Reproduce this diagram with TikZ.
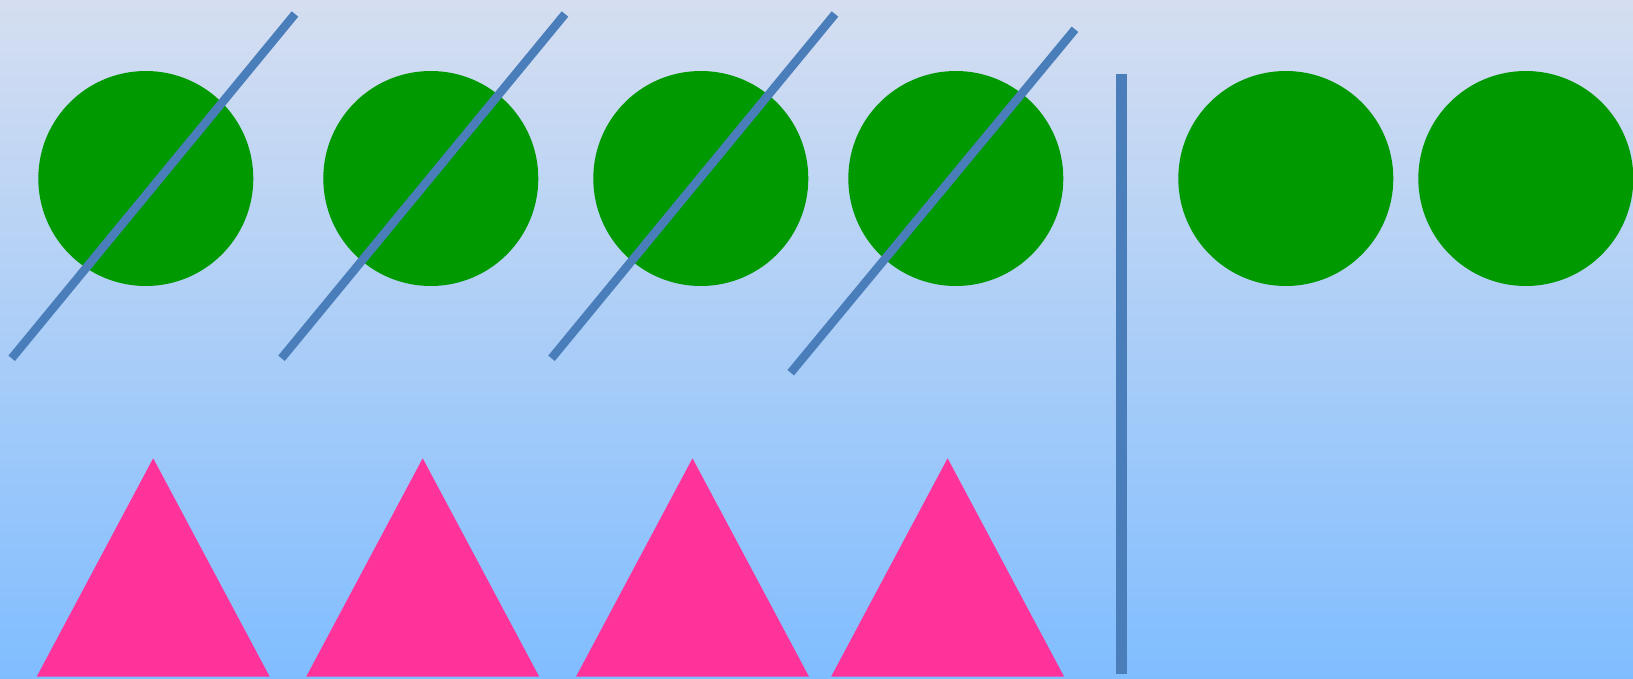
\documentclass[tikz,border=0pt]{standalone}
\usepackage{tikz}
\definecolor{skytop}{RGB}{213,222,240}
\definecolor{skybottom}{RGB}{128,189,255}
\definecolor{ballgreen}{RGB}{0,153,0}
\definecolor{conepink}{RGB}{255,51,153}
\definecolor{strokeblue}{RGB}{74,126,187}
\begin{document}
\begin{tikzpicture}[x=.02cm,y=-.02cm,
  ball/.style={fill=ballgreen},
  cone/.style={fill=conepink},
  slash/.style={draw=strokeblue,line width=.17cm,line cap=butt}]
  \path[use as bounding box,shade,top color=skytop,bottom color=skybottom] (0,0) rectangle (1633,679);
  % balls
  \foreach \cx in {145.8,430.8,700.8,955.8,1285.8,1525.8}
    \fill[ball] (\cx,178.5) circle (107.5);
  % strokes across the first four
  \draw[slash] (11.7,358.3) -- (295,14);
  \draw[slash] (281.5,358.3) -- (565,14);
  \draw[slash] (551.5,358.3) -- (835,14);
  \draw[slash] (790.7,372.7) -- (1075,29.3);
  % separator
  \fill[strokeblue] (1115.5,74) rectangle (1127,674);
  % cones
  \foreach \lx in {36.7,306.2,576,831.1}
    \fill[cone] (\lx,676.7) -- ++(116.5,-218.4) -- ++(116.5,218.4) -- cycle;
\end{tikzpicture}
\end{document}
